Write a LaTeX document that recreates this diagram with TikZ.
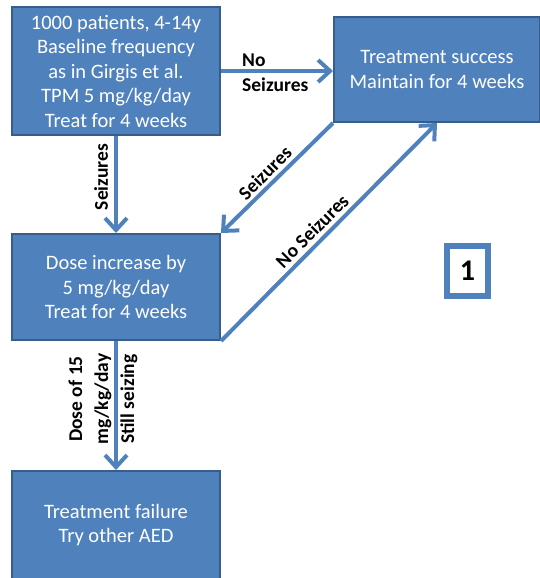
\documentclass[tikz,border=0pt]{standalone}
\usepackage{fontspec}
\setmainfont{Carlito}
\usetikzlibrary{arrows.meta}
\definecolor{boxblue}{HTML}{4F81BD}
\definecolor{boxedge}{HTML}{385D8A}
\begin{document}
\begin{tikzpicture}[x=1pt,y=1pt,
  box/.style={rectangle, fill=boxblue, draw=boxedge, line width=2pt, text=white, align=center,
    font=\fontsize{20.5}{24.5}\selectfont, inner sep=0pt},
  arr/.style={draw=boxblue, line width=4pt, -{Straight Barb[length=12pt,width=22pt,line width=4pt]}},
  lbl/.style={text=black, font=\fontsize{19.5}{25}\selectfont\bfseries, inner sep=0pt, align=center}]
\useasboundingbox (0,0) rectangle (539,-578);
\node[box, minimum width=208, minimum height=128] (A) at (116,-71)
  {1000 patients, 4-14y\\Baseline frequency\\as in Girgis et al.\\TPM 5 mg/kg/day\\Treat for 4 weeks};
\node[box, minimum width=206, minimum height=105] (B) at (437,-69.5)
  {Treatment success\\Maintain for 4 weeks};
\node[box, minimum width=208, minimum height=106] (C) at (116,-287)
  {Dose increase by\\5 mg/kg/day\\Treat for 4 weeks};
\node[box, minimum width=208, minimum height=108] (D) at (116,-525)
  {Treatment failure\\Try other AED};
\node[draw=boxblue, line width=6pt, fill=white, minimum width=41, minimum height=50, inner sep=0pt,
  font=\fontsize{30}{30}\selectfont\bfseries] (one) at (467.5,-271) {1};

\draw[arr] (A.east) -- (A.east -| B.west);
\draw[arr] (A.south) -- (C.north);
\draw[arr] (B.south west) -- (C.north east);
\draw[arr] (C.south east) -- (B.south);
\draw[arr] (C.south) -- (D.north);

\node[lbl, anchor=west, align=left] (l1) at (242,-72.5) {No\\Seizures};
\node[lbl, rotate=90] (l2) at (101,-177) {Seizures};
\node[lbl, rotate=45] (l3) at (265,-173) {Seizures};
\node[lbl, rotate=45] (l4) at (312,-231) {No Seizures};
\node[lbl, rotate=90, font=\fontsize{19.5}{26}\selectfont\bfseries] (l5) at (103,-399) {Dose of 15\\mg/kg/day\\Still seizing};
\end{tikzpicture}
\end{document}
